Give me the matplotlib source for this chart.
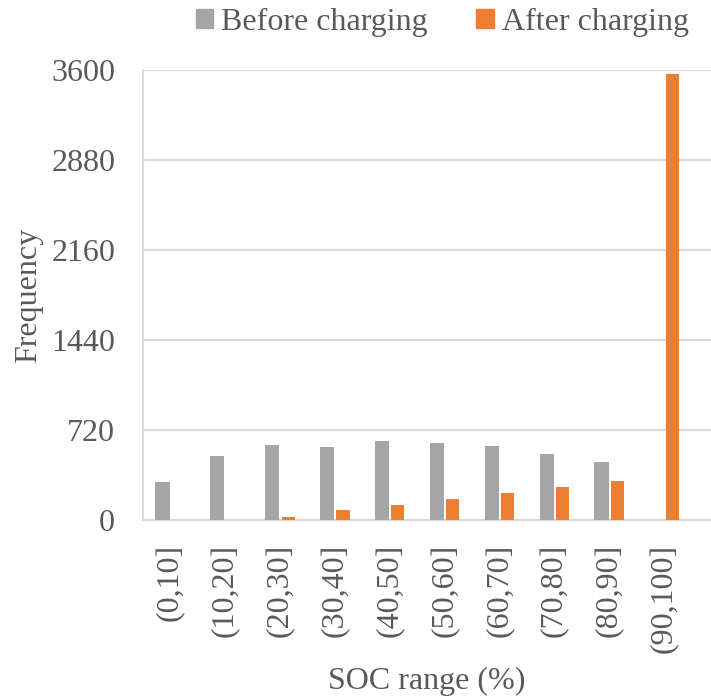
import numpy as np
import matplotlib.pyplot as plt
from matplotlib.patches import Patch

plt.rcParams['font.family'] = ['Liberation Serif', 'DejaVu Serif']

categories = ['(0,10]', '(10,20]', '(20,30]', '(30,40]', '(40,50]',
              '(50,60]', '(60,70]', '(70,80]', '(80,90]', '(90,100]']
before = [301, 516, 599, 583, 634, 620, 596, 532, 465, 0]
after = [0, 0, 24, 83, 118, 169, 220, 264, 314, 3570]
yticks = [0, 720, 1440, 2160, 2880, 3600]

grey = '#a5a5a5'
orange = '#ed7d31'
txt = '#595959'
fs = 23

fig = plt.figure(figsize=(7.11, 7.0), dpi=100)
ax = fig.add_axes([143 / 711, 1 - 520 / 700, 1 - 143 / 711, 450 / 700])

x = np.arange(len(categories))
ax.bar(x - 0.145, before, width=0.26, color=grey, zorder=3)
ax.bar(x + 0.145, after, width=0.24, color=orange, zorder=3)

ax.set_xlim(-0.5, 9.85)
ax.set_ylim(0, 3600)
ax.set_yticks(yticks)
ax.set_yticklabels([str(t) for t in yticks])
ax.yaxis.grid(True, color='#d9d9d9', linewidth=1.5, zorder=0)
ax.set_xticks(x)
ax.set_xticklabels(categories, rotation=90, va='top', ha='center')

for s in ['top', 'right']:
    ax.spines[s].set_visible(False)
for s in ['left', 'bottom']:
    ax.spines[s].set_color('#d9d9d9')
    ax.spines[s].set_linewidth(1.5)
ax.tick_params(axis='both', length=0, labelsize=fs, colors=txt)
ax.tick_params(axis='x', pad=17)
ax.tick_params(axis='y', pad=20)

ax.set_xlabel('SOC range (%)', fontsize=fs, color=txt, labelpad=10)
ax.set_ylabel('Frequency', fontsize=fs, color=txt, labelpad=6)

handles = [Patch(color=grey, label='Before charging'),
           Patch(color=orange, label='After charging')]
fig.legend(handles=handles, loc='center', bbox_to_anchor=(0.622, 1 - 22 / 700),
           ncol=2, frameon=False, fontsize=fs, labelcolor=txt,
           handlelength=0.55, handleheight=0.55, handletextpad=0.25, columnspacing=1.5)

fig.savefig('out.png', dpi=100)
